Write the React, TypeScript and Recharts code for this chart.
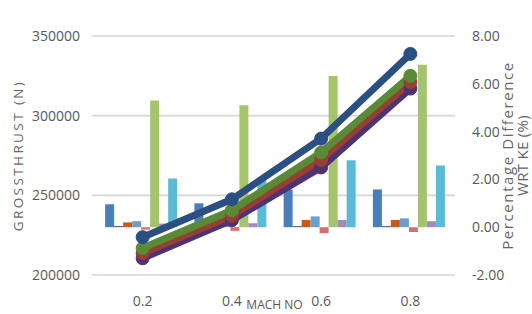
import React from 'react';
import { ComposedChart, Bar, Line, XAxis, YAxis, CartesianGrid } from 'recharts';

const categories = ['0.2', '0.4', '0.6', '0.8'];

// Gross thrust lines (left axis, N)
const thrustBlue = [223750, 247500, 285600, 338750];
const thrustGreen = [216900, 240600, 276900, 325000];
const thrustBrown = [213750, 237200, 272300, 321000];
const thrustPurple = [210500, 234400, 267500, 317000];

// Percentage difference bars (right axis, %)
const pctBlue = [0.96, 1.0, 1.58, 1.58];
const pctSlate = [0.05, 0.05, 0.05, 0.05];
const pctOrange = [0.2, 0.22, 0.3, 0.3];
const pctSky = [0.25, 0.28, 0.45, 0.37];
const pctRed = [-0.1, -0.15, -0.25, -0.2];
const pctGreen = [5.3, 5.1, 6.33, 6.8];
const pctPurple = [0.15, 0.17, 0.3, 0.25];
const pctAqua = [2.04, 2.0, 2.8, 2.58];

const leftTicks = [200000, 250000, 300000, 350000];
const rightTicks = [-2, 0, 2, 4, 6, 8];

const data = categories.map((c, i) => ({
  mach: c,
  tBlue: thrustBlue[i],
  tGreen: thrustGreen[i],
  tBrown: thrustBrown[i],
  tPurple: thrustPurple[i],
  pBlue: pctBlue[i],
  pSlate: pctSlate[i],
  pOrange: pctOrange[i],
  pSky: pctSky[i],
  pRed: pctRed[i],
  pGreen: pctGreen[i],
  pPurple: pctPurple[i],
  pAqua: pctAqua[i],
}));

const FONT = '"Open Sans", "Noto Sans", sans-serif';
const tickStyle = { fontSize: 14, fill: '#595959', fontFamily: FONT };

const bars: [string, string][] = [
  ['pBlue', '#4a7ebb'],
  ['pSlate', '#5f6b7a'],
  ['pOrange', '#c65a1e'],
  ['pSky', '#6a9fd4'],
  ['pRed', '#d2706e'],
  ['pGreen', '#a6c46c'],
  ['pPurple', '#9f8bbd'],
  ['pAqua', '#5bbad6'],
];

const lines: [string, string][] = [
  ['tPurple', '#4f3276'],
  ['tBrown', '#963f33'],
  ['tGreen', '#5a8a35'],
  ['tBlue', '#2c4f82'],
];

const LeftLabel = (props: any) => {
  const vb = props.viewBox || { x: 0, y: 36, width: 98, height: 239 };
  const cx = vb.x + 18;
  const cy = vb.y + vb.height / 2;
  return (
    <text
      x={cx}
      y={cy}
      transform={`rotate(-90, ${cx}, ${cy})`}
      textAnchor="middle"
      dominantBaseline="central"
      fontFamily={FONT}
      fontSize={13.5}
      letterSpacing={2.4}
      fill="#666666"
    >
      GROSSTHRUST (N)
    </text>
  );
};

const RightLabel = (props: any) => {
  const vb = props.viewBox || { x: 455, y: 36, width: 77, height: 239 };
  const cy = vb.y + vb.height / 2;
  const x1 = vb.x + 52;
  const x2 = vb.x + 67;
  return (
    <g fontFamily={FONT} fontSize={15} fill="#666666">
      <text
        x={x1}
        y={cy}
        transform={`rotate(-90, ${x1}, ${cy})`}
        textAnchor="middle"
        dominantBaseline="central"
        letterSpacing={1.6}
      >
        Percentage Difference
      </text>
      <text
        x={x2}
        y={cy}
        transform={`rotate(-90, ${x2}, ${cy})`}
        textAnchor="middle"
        dominantBaseline="central"
        letterSpacing={0.3}
      >
        WRT KE (%)
      </text>
    </g>
  );
};

export default function App() {
  return (
    <div style={{ position: 'absolute', left: 0, top: 0, width: 532, height: 314, background: '#ffffff' }}>
      <ComposedChart
        width={532}
        height={314}
        data={data}
        margin={{ top: 36, right: 0, bottom: 0, left: 0 }}
        barCategoryGap="8%"
        barGap={0}
      >
        <CartesianGrid yAxisId="left" vertical={false} stroke="#d6d6d6" strokeWidth={1.6} />
        <XAxis
          dataKey="mach"
          axisLine={false}
          tickLine={false}
          tickSize={0}
          tickMargin={21}
          height={39}
          tick={tickStyle}
          label={{
            value: 'MACH NO',
            position: 'insideBottom',
            offset: 5,
            dx: -2,
            style: { fontSize: 12, fill: '#595959', fontFamily: FONT },
          }}
        />
        <YAxis
          yAxisId="left"
          orientation="left"
          width={98}
          domain={[200000, 350000]}
          ticks={leftTicks}
          axisLine={false}
          tickLine={{ stroke: '#d6d6d6', strokeWidth: 1.6 }}
          tickSize={6}
          tickMargin={12}
          tick={tickStyle}
          label={<LeftLabel />}
        />
        <YAxis
          yAxisId="right"
          orientation="right"
          width={77}
          domain={[-2, 8]}
          ticks={rightTicks}
          axisLine={false}
          tickLine={false}
          tickSize={0}
          tickMargin={17}
          tick={tickStyle}
          tickFormatter={(v: number) => v.toFixed(2)}
          label={<RightLabel />}
        />
        {bars.map(([key, color]) => (
          <Bar key={key} yAxisId="right" dataKey={key} fill={color} isAnimationActive={false} />
        ))}
        {lines.map(([key, color]) => (
          <Line
            key={key}
            yAxisId="left"
            dataKey={key}
            stroke={color}
            strokeWidth={7}
            dot={{ r: 6.5, fill: color, stroke: color, strokeWidth: 1 }}
            activeDot={false}
            isAnimationActive={false}
          />
        ))}
      </ComposedChart>
    </div>
  );
}
